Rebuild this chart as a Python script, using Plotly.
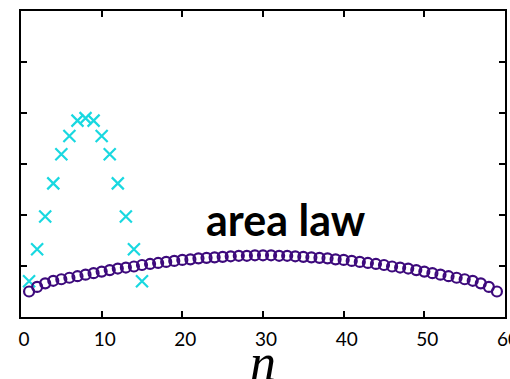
import plotly.graph_objects as go

# Entanglement profile across the chain (open circles, L = 60)
n_area = list(range(1, 60))
s_area = [0.50, 0.59, 0.66, 0.71, 0.74, 0.77, 0.80, 0.83, 0.86, 0.89,
          0.92, 0.95, 0.97, 0.99, 1.02, 1.04, 1.06, 1.08, 1.10, 1.12,
          1.13, 1.15, 1.16, 1.17, 1.18, 1.19, 1.20, 1.20, 1.21, 1.21,
          1.21, 1.20, 1.20, 1.19, 1.18, 1.17, 1.16, 1.15, 1.13, 1.12,
          1.10, 1.08, 1.06, 1.04, 1.02, 0.99, 0.97, 0.95, 0.92, 0.89,
          0.86, 0.83, 0.80, 0.77, 0.74, 0.71, 0.66, 0.59, 0.50]

# Short chain profile (crosses, L = 16)
n_short = list(range(1, 16))
s_short = [0.70, 1.33, 1.97, 2.62, 3.19, 3.55, 3.85, 3.90, 3.85, 3.55,
           3.19, 2.62, 1.97, 1.33, 0.70]

x_ticks = [0, 10, 20, 30, 40, 50, 60]
y_ticks = [0, 1, 2, 3, 4, 5, 6]

fig = go.Figure()
fig.add_trace(go.Scatter(
    x=n_short, y=s_short, mode="markers",
    marker=dict(symbol="x-thin-open", size=12, color="#19d8e0",
                line=dict(color="#19d8e0", width=2.2)),
    showlegend=False, cliponaxis=False))
fig.add_trace(go.Scatter(
    x=n_area, y=s_area, mode="markers",
    marker=dict(symbol="circle-open", size=10, color="#3d0a7c",
                line=dict(color="#3d0a7c", width=2.2)),
    showlegend=False, cliponaxis=False))

fig.add_annotation(x=32.8, y=1.92, xref="x", yref="y", text="<b>area law</b>",
                   showarrow=False, font=dict(family="Lato", size=43, color="black"))

# axis title, placed below the tick labels
fig.add_annotation(x=0.5, y=-0.148, xref="paper", yref="paper", text="<i>n</i>",
                   showarrow=False, yanchor="middle",
                   font=dict(family="Liberation Serif", size=52, color="black"))

axis_common = dict(showline=True, linecolor="black", linewidth=2.2, mirror="ticks",
                   ticks="inside", ticklen=6, tickwidth=1.8, tickcolor="black",
                   showgrid=False, zeroline=False, automargin=False)

fig.update_xaxes(range=[0, 60], tickvals=x_ticks, ticktext=[str(v) for v in x_ticks],
                 tickfont=dict(family="Lato", size=19, color="black"),
                 ticklabelshift=3, ticklabelstandoff=4, ticklabeloverflow="allow",
                 **axis_common)
fig.update_yaxes(range=[0, 6], tickvals=y_ticks, showticklabels=False, **axis_common)

fig.update_layout(width=510, height=379, margin=dict(l=21, r=5, t=11, b=62),
                  paper_bgcolor="white", plot_bgcolor="white")

fig.write_html("out.html")
